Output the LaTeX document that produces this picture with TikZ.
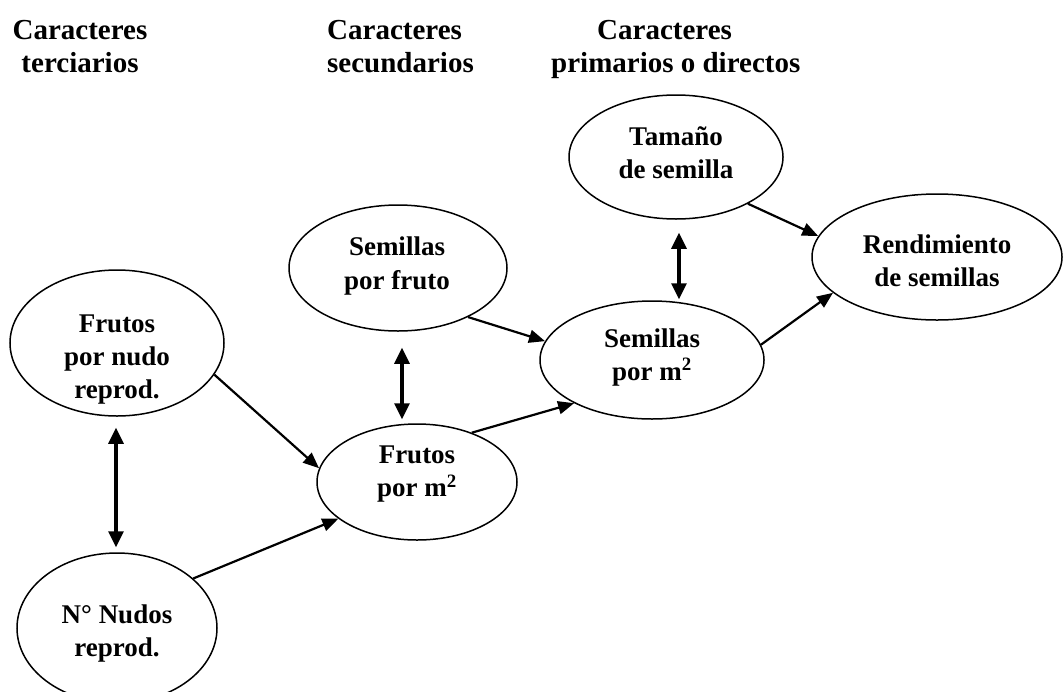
\documentclass[tikz,border=0pt]{standalone}
\usepackage{fontspec}
\setmainfont{Liberation Serif}
\usetikzlibrary{arrows.meta,shapes.geometric}
\begin{document}
\begin{tikzpicture}[x=1pt,y=-1pt,
  ell/.style={draw, line width=1.5pt, ellipse, inner sep=0pt},
  lbl/.style={inner sep=0pt, align=center, font=\fontsize{27}{33}\selectfont\bfseries},
  head/.style={inner sep=0pt, font=\fontsize{29}{33}\selectfont\bfseries},
  arr/.style={line width=2.2pt, -{Triangle[length=16pt,width=13pt]}},
  dbl/.style={line width=3.2pt, {Triangle[length=16pt,width=15pt]}-{Triangle[length=16pt,width=15pt]}}]
\useasboundingbox (0,0) rectangle (1064,691);
% headings
\node[head, align=center, anchor=north] (h1) at (80,20) {Caracteres\\terciarios};
\node[head, align=left, anchor=north west] (h2) at (327,20) {Caracteres\\secundarios};
\node[head, align=left, anchor=north west] (h3) at (551,20) {\hspace*{46pt}Caracteres\\primarios o directos};
% ellipses
\node[ell, minimum width=214pt, minimum height=146pt] (A) at (117,343) {};
\node[lbl] (At) at (117,360) {Frutos\\por nudo\\reprod.};
\node[ell, minimum width=200pt, minimum height=150pt] (B) at (117,628) {};
\node[lbl] (Bt) at (117,633) {N° Nudos\\reprod.};
\node[ell, minimum width=200pt, minimum height=116pt] (C) at (417,482) {};
\node[lbl] (Ct) at (417,474) {Frutos\\por m\textsuperscript{2}};
\node[ell, minimum width=218pt, minimum height=126pt] (D) at (398,268) {};
\node[lbl] (Dt) at (397,266) {Semillas\\por fruto};
\node[ell, minimum width=224pt, minimum height=118pt] (E) at (652,360) {};
\node[lbl] (Et) at (652,357) {Semillas\\por m\textsuperscript{2}};
\node[ell, minimum width=214pt, minimum height=124pt] (F) at (676,157) {};
\node[lbl] (Ft) at (676,153) {Tamaño\\de semilla};
\node[ell, minimum width=250pt, minimum height=126pt] (G) at (937,257) {};
\node[lbl] (Gt) at (937,261) {Rendimiento\\de semillas};
% arrows
\draw[arr] (A.-18) -- (C.172);
\draw[arr] (B.33) -- (C.205);
\draw[arr] (D.-35) -- (E.170);
\draw[arr] (C.42) -- (E.209);
\draw[arr] (E.8) -- (G.199);
\draw[arr] (F.-33) -- (G.170);
\draw[dbl, shorten <=11pt, shorten >=5pt] ([xshift=-1pt]A.south) -- ([xshift=-1pt]B.north);
\draw[dbl, shorten <=16pt, shorten >=4pt] ([xshift=4pt]D.south) -- ([xshift=4pt]D.south |- C.north);
\draw[dbl, shorten <=13pt, shorten >=1pt] ([xshift=3pt]F.south) -- ([xshift=3pt]F.south |- E.north);
\end{tikzpicture}
\end{document}
